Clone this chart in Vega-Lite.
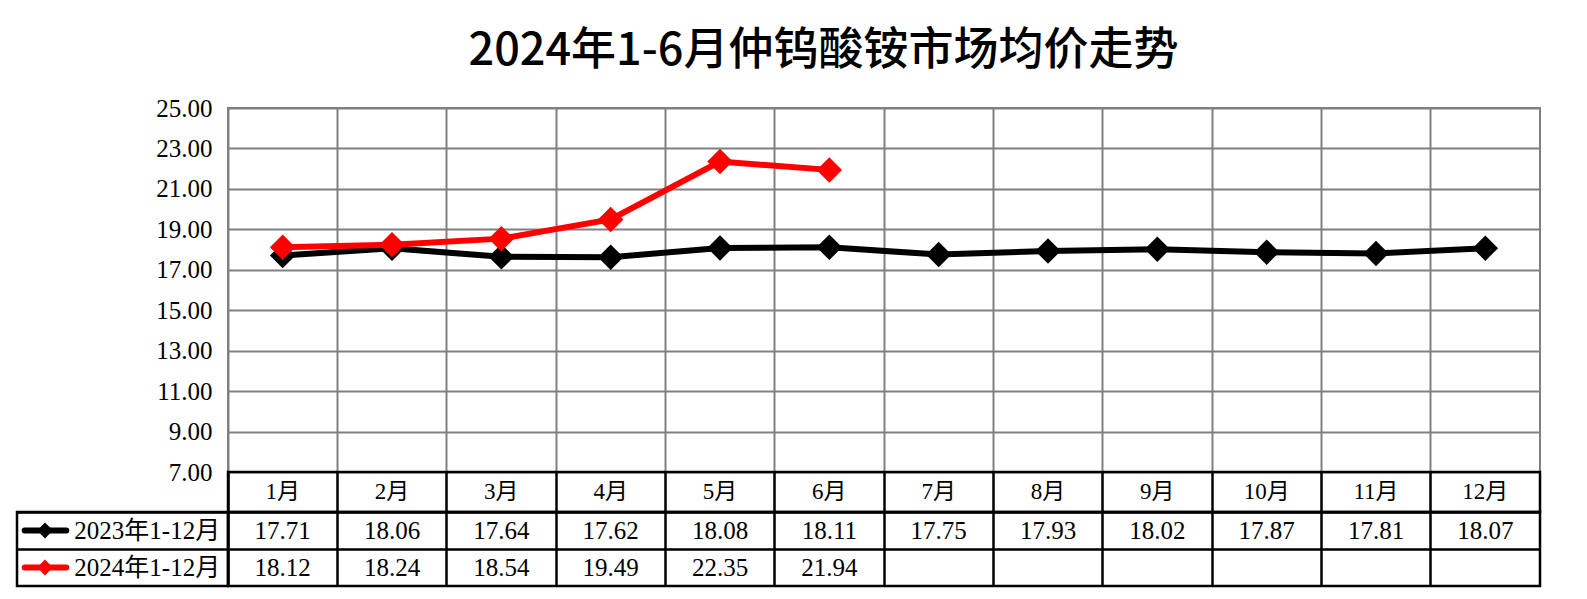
{
  "$schema": "https://vega.github.io/schema/vega-lite/v6.json",
  "background": "white",
  "padding": {"left": 15, "top": 29, "right": 5, "bottom": 5},
  "title": {
    "text": "2024年1-6月仲钨酸铵市场均价走势",
    "font": "Noto Sans CJK SC",
    "fontSize": 45,
    "fontWeight": 500,
    "color": "black",
    "anchor": "middle",
    "dx": 45,
    "offset": 21
  },
  "datasets": {
    "prices": [
      {"month": "1月", "series": "2023年1-12月", "value": 17.71},
      {"month": "2月", "series": "2023年1-12月", "value": 18.06},
      {"month": "3月", "series": "2023年1-12月", "value": 17.64},
      {"month": "4月", "series": "2023年1-12月", "value": 17.62},
      {"month": "5月", "series": "2023年1-12月", "value": 18.08},
      {"month": "6月", "series": "2023年1-12月", "value": 18.11},
      {"month": "7月", "series": "2023年1-12月", "value": 17.75},
      {"month": "8月", "series": "2023年1-12月", "value": 17.93},
      {"month": "9月", "series": "2023年1-12月", "value": 18.02},
      {"month": "10月", "series": "2023年1-12月", "value": 17.87},
      {"month": "11月", "series": "2023年1-12月", "value": 17.81},
      {"month": "12月", "series": "2023年1-12月", "value": 18.07},
      {"month": "1月", "series": "2024年1-12月", "value": 18.12},
      {"month": "2月", "series": "2024年1-12月", "value": 18.24},
      {"month": "3月", "series": "2024年1-12月", "value": 18.54},
      {"month": "4月", "series": "2024年1-12月", "value": 19.49},
      {"month": "5月", "series": "2024年1-12月", "value": 22.35},
      {"month": "6月", "series": "2024年1-12月", "value": 21.94},
      {"month": "7月", "series": "2024年1-12月", "value": null},
      {"month": "8月", "series": "2024年1-12月", "value": null},
      {"month": "9月", "series": "2024年1-12月", "value": null},
      {"month": "10月", "series": "2024年1-12月", "value": null},
      {"month": "11月", "series": "2024年1-12月", "value": null},
      {"month": "12月", "series": "2024年1-12月", "value": null}
    ],
    "series": [
      {"series": "2023年1-12月"},
      {"series": "2024年1-12月"}
    ]
  },
  "columns": 2,
  "spacing": 0,
  "bounds": "flush",
  "concat": [
    {
      "width": 211,
      "height": 364,
      "data": {"values": []},
      "mark": "point",
      "view": {"stroke": null}
    },
    {
      "width": 1312,
      "height": 364,
      "data": {"name": "prices"},
      "transform": [{"filter": "isValid(datum.value)"}],
      "view": {"stroke": "#808080", "strokeWidth": 2},
      "encoding": {
        "x": {
          "field": "month",
          "type": "ordinal",
          "bandPosition": 0.5,
          "scale": {"type": "band", "domain": ["1月","2月","3月","4月","5月","6月","7月","8月","9月","10月","11月","12月"], "paddingInner": 0, "paddingOuter": 0},
          "axis": {"title": null, "labels": false, "ticks": false, "domain": false, "grid": true, "gridColor": "#808080", "gridWidth": 2, "bandPosition": 0}
        },
        "y": {
          "field": "value",
          "type": "quantitative",
          "scale": {"domain": [7, 25], "nice": false, "zero": false},
          "axis": {"title": null, "values": [7, 9, 11, 13, 15, 17, 19, 21, 23, 25], "format": ".2f", "grid": true, "gridColor": "#808080", "gridWidth": 2, "ticks": false, "domain": false, "labelFont": "Liberation Serif", "labelFontSize": 25, "labelColor": "black", "labelPadding": 16}
        },
        "color": {
          "field": "series",
          "type": "nominal",
          "scale": {"domain": ["2023年1-12月", "2024年1-12月"], "range": ["#000000", "#FF0000"]},
          "legend": null
        }
      },
      "layer": [
        {"transform": [{"filter": "datum.series === '2023年1-12月'"}], "mark": {"type": "line", "strokeWidth": 6}},
        {"transform": [{"filter": "datum.series === '2023年1-12月'"}], "mark": {"type": "point", "shape": "diamond", "filled": true, "size": 650, "opacity": 1}},
        {"transform": [{"filter": "datum.series === '2024年1-12月'"}], "mark": {"type": "line", "strokeWidth": 6}},
        {"transform": [{"filter": "datum.series === '2024年1-12月'"}], "mark": {"type": "point", "shape": "diamond", "filled": true, "size": 650, "opacity": 1}}
      ]
    },
    {
      "width": 211,
      "height": 40,
      "data": {"values": []},
      "mark": "point",
      "view": {"stroke": null}
    },
    {
      "width": 1312,
      "height": 40,
      "data": {"name": "prices"},
      "transform": [{"filter": "datum.series === '2023年1-12月'"}],
      "view": {"stroke": "black", "strokeWidth": 2.5},
      "mark": {"type": "text", "font": "Liberation Serif, Noto Sans CJK SC", "fontSize": 23, "color": "black", "baseline": "middle", "align": "center"},
      "encoding": {
        "x": {
          "field": "month",
          "type": "ordinal",
          "bandPosition": 0.5,
          "scale": {"type": "band", "domain": ["1月","2月","3月","4月","5月","6月","7月","8月","9月","10月","11月","12月"], "paddingInner": 0, "paddingOuter": 0},
          "axis": {"title": null, "labels": false, "ticks": false, "domain": false, "grid": true, "gridColor": "black", "gridWidth": 2.5, "bandPosition": 0}
        },
        "text": {"field": "month"}
      }
    },
    {
      "width": 211,
      "height": 74,
      "data": {"name": "series"},
      "view": {"stroke": "black", "strokeWidth": 2.5},
      "encoding": {
        "y": {
          "field": "series",
          "type": "nominal",
          "bandPosition": 0.5,
          "scale": {"type": "band", "domain": ["2023年1-12月", "2024年1-12月"], "paddingInner": 0, "paddingOuter": 0},
          "axis": {"title": null, "labels": false, "ticks": false, "domain": false, "grid": true, "gridColor": "black", "gridWidth": 2.5, "bandPosition": 0}
        },
        "color": {
          "field": "series",
          "type": "nominal",
          "scale": {"domain": ["2023年1-12月", "2024年1-12月"], "range": ["#000000", "#FF0000"]},
          "legend": null
        }
      },
      "layer": [
        {
          "mark": {"type": "rule", "strokeWidth": 6, "strokeCap": "round"},
          "encoding": {
            "x": {"datum": 0.0365, "type": "quantitative", "scale": {"domain": [0, 1]}, "axis": null},
            "x2": {"datum": 0.2336}
          }
        },
        {
          "mark": {"type": "point", "shape": "diamond", "filled": true, "size": 250, "opacity": 1},
          "encoding": {
            "x": {"datum": 0.1327, "type": "quantitative", "scale": {"domain": [0, 1]}, "axis": null}
          }
        },
        {
          "mark": {"type": "text", "font": "Liberation Serif, Noto Sans CJK SC", "fontSize": 25, "align": "left", "baseline": "middle", "color": "black"},
          "encoding": {
            "x": {"datum": 0.2716, "type": "quantitative", "scale": {"domain": [0, 1]}, "axis": null},
            "text": {"field": "series"},
            "color": {"value": "black"}
          }
        }
      ]
    },
    {
      "width": 1312,
      "height": 74,
      "data": {"name": "prices"},
      "transform": [{"filter": "isValid(datum.value)"}],
      "view": {"stroke": "black", "strokeWidth": 2.5},
      "mark": {"type": "text", "font": "Liberation Serif", "fontSize": 25, "color": "black", "baseline": "middle", "align": "center"},
      "encoding": {
        "x": {
          "field": "month",
          "type": "ordinal",
          "bandPosition": 0.5,
          "scale": {"type": "band", "domain": ["1月","2月","3月","4月","5月","6月","7月","8月","9月","10月","11月","12月"], "paddingInner": 0, "paddingOuter": 0},
          "axis": {"title": null, "labels": false, "ticks": false, "domain": false, "grid": true, "gridColor": "black", "gridWidth": 2.5, "bandPosition": 0}
        },
        "y": {
          "field": "series",
          "type": "nominal",
          "bandPosition": 0.5,
          "scale": {"type": "band", "domain": ["2023年1-12月", "2024年1-12月"], "paddingInner": 0, "paddingOuter": 0},
          "axis": {"title": null, "labels": false, "ticks": false, "domain": false, "grid": true, "gridColor": "black", "gridWidth": 2.5, "bandPosition": 0}
        },
        "text": {"field": "value", "type": "quantitative", "format": ".2f"}
      }
    }
  ],
  "config": {
    "view": {"stroke": null},
    "axis": {"labelFont": "Liberation Serif"}
  }
}
